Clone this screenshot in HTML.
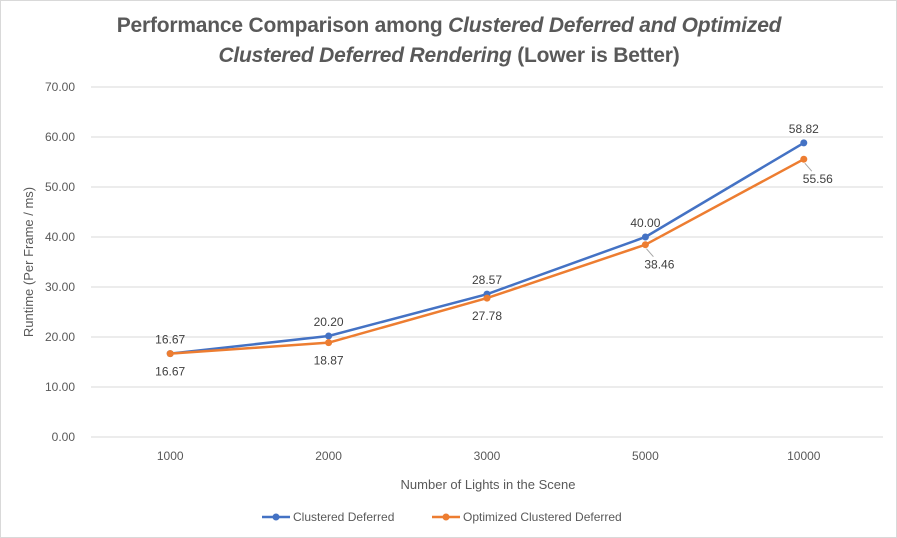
<!DOCTYPE html>
<html><head><meta charset="utf-8"><style>
body{margin:0;background:#fff;}
svg{display:block;font-family:"Liberation Sans",sans-serif;}
</style></head><body>
<svg id="chart" width="897" height="538">
<rect x="0.5" y="0.5" width="896" height="537" fill="#fff" stroke="#d9d9d9"/>
<text x="449" y="32" text-anchor="middle" font-size="21" font-weight="bold" fill="#595959" letter-spacing="-0.2">Performance Comparison among <tspan font-style="italic">Clustered Deferred and Optimized</tspan></text>
<text x="449" y="62" text-anchor="middle" font-size="21" font-weight="bold" fill="#595959" letter-spacing="-0.2"><tspan font-style="italic">Clustered Deferred Rendering</tspan> (Lower is Better)</text>
<g id="grid"></g><g id="xlabels"></g><g id="series"></g><g id="labels"></g>
<text transform="translate(33,262) rotate(-90)" text-anchor="middle" font-size="13" fill="#595959">Runtime (Per Frame / ms)</text>
<text x="488" y="489" text-anchor="middle" font-size="13" fill="#595959">Number of Lights in the Scene</text>
<g>
<line x1="262" y1="517" x2="290" y2="517" stroke="#4472c4" stroke-width="2.5"/><circle cx="276" cy="517" r="3.5" fill="#4472c4"/>
<text x="293" y="521" font-size="12" fill="#595959">Clustered Deferred</text></g>
<g>
<line x1="432" y1="517" x2="460" y2="517" stroke="#ed7d31" stroke-width="2.5"/><circle cx="446" cy="517" r="3.5" fill="#ed7d31"/>
<text x="463" y="521" font-size="12" fill="#595959">Optimized Clustered Deferred</text></g>
</svg>
<script>
const categories=["1000","2000","3000","5000","10000"];
const clustered=[16.67,20.20,28.57,40.00,58.82];
const optimized=[16.67,18.87,27.78,38.46,55.56];
const yTicks=[0,10,20,30,40,50,60,70];
const NS="http://www.w3.org/2000/svg";
const x0=91,x1=883,y0=437,y1=87;
const bw=(x1-x0)/categories.length;
const xs=i=>x0+bw*(i+0.5);
const ys=v=>y0-(v/70)*(y0-y1);
function mk(tag,a,parent,txt){const e=document.createElementNS(NS,tag);for(const k in a)e.setAttribute(k,a[k]);if(txt!==undefined)e.textContent=txt;document.getElementById(parent).appendChild(e);return e;}
yTicks.forEach(t=>{
 const l=mk('line',{x1:x0,x2:x1,y1:ys(t),y2:ys(t),stroke:'#d9d9d9','stroke-width':1},'grid');
 
 
 const tx=mk('text',{x:75,y:ys(t)+4,'text-anchor':'end','font-size':12,fill:'#595959'},'grid',t.toFixed(2));
 
 
});
categories.forEach((c,i)=>{
 const tx=mk('text',{x:xs(i),y:460,'text-anchor':'middle','font-size':12,fill:'#595959'},'xlabels',c);
 
 
});
function series(vals,color,name){
 const pl=mk('polyline',{points:vals.map((v,i)=>xs(i)+','+ys(v)).join(' '),fill:'none',stroke:color,'stroke-width':2.5,'stroke-linejoin':'round'},'series');
 
 
 vals.forEach((v,i)=>{
  const c=mk('circle',{cx:xs(i),cy:ys(v),r:3.5,fill:color},'series');
  
  
 });
}
series(clustered,'#4472c4','clustered');
series(optimized,'#ed7d31','optimized');
clustered.forEach((v,i)=>{
 const t=mk('text',{x:xs(i),y:ys(v)-10,'text-anchor':'middle','font-size':12,fill:'#404040'},'labels',v.toFixed(2));
 
 
});
optimized.forEach((v,i)=>{
 const far=i>=3;
 const dx=far?14:0, dy=far?24:22;
 if(far){
  const ln=mk('line',{x1:xs(i)+1,y1:ys(v)+4,x2:xs(i)+8,y2:ys(v)+12,stroke:'#a6a6a6','stroke-width':1},'labels');
  
  
 }
 const t=mk('text',{x:xs(i)+dx,y:ys(v)+dy,'text-anchor':'middle','font-size':12,fill:'#404040'},'labels',v.toFixed(2));
 
 
});
</script>
</body></html>
